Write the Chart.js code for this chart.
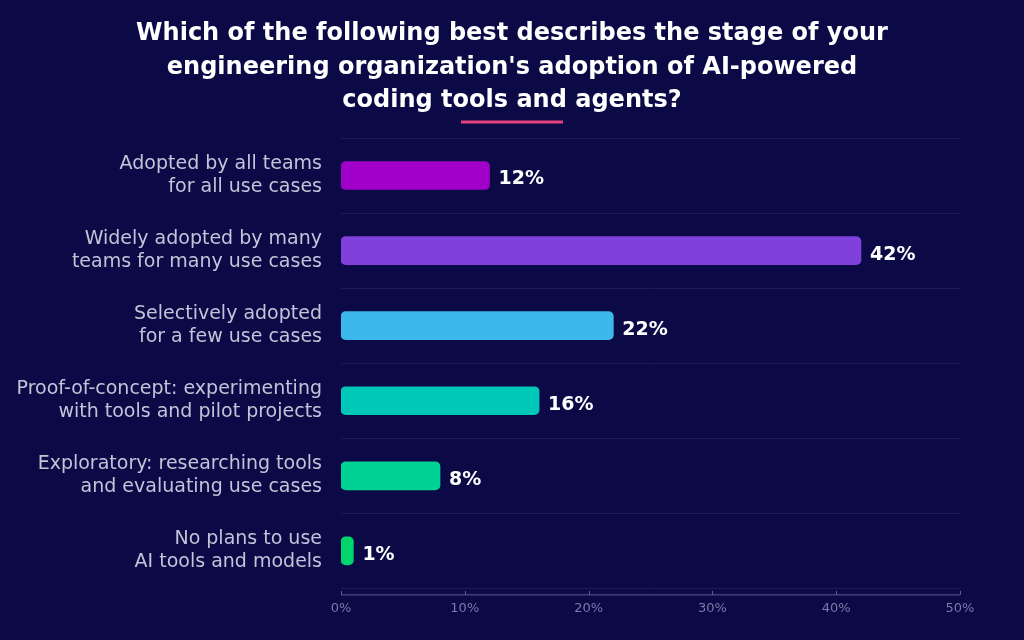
<!DOCTYPE html>
<html lang="en">
<head>
    <meta charset="UTF-8">
    <title>AI Coding Tools Adoption</title>
    <script src="https://cdn.jsdelivr.net/npm/chart.js"></script>
    <style>
        html, body { margin: 0; padding: 0; background: #0b0946; }
        #wrap { width: 1024px; height: 640px; position: relative; }
    </style>
</head>
<body>
    <div id="wrap"><canvas id="chart"></canvas></div>

    <script>
        // Chart data
        const categories = [
            ['Adopted by all teams', 'for all use cases'],
            ['Widely adopted by many', 'teams for many use cases'],
            ['Selectively adopted', 'for a few use cases'],
            ['Proof-of-concept: experimenting', 'with tools and pilot projects'],
            ['Exploratory: researching tools', 'and evaluating use cases'],
            ['No plans to use', 'AI tools and models']
        ];
        const percentages = [12, 42, 22, 16, 8, 1];
        const xTicks = [0, 10, 20, 30, 40, 50];
        const titleLines = [
            'Which of the following best describes the stage of your',
            "engineering organization's adoption of AI-powered",
            'coding tools and agents?'
        ];

        const barColors = ['#a000c8', '#8040dc', '#3cb8ed', '#00c8b8', '#00d296', '#00d46c'];
        const FONT = "'DejaVu Sans', sans-serif";
        const axisColor = '#5c5b92';

        // value labels at the end of each bar
        const valueLabels = {
            id: 'valueLabels',
            afterDatasetsDraw(chart) {
                const ctx = chart.ctx;
                const meta = chart.getDatasetMeta(0);
                ctx.save();
                ctx.font = 'bold 19px ' + FONT;
                ctx.fillStyle = '#ffffff';
                ctx.textAlign = 'left';
                ctx.textBaseline = 'middle';
                meta.data.forEach((bar, i) => {
                    ctx.fillText(percentages[i] + '%', bar.x + 9, bar.y + 4);
                });
                ctx.restore();
            }
        };

        // bottom axis line sits a little below the last grid line, with short ticks pointing up
        const bottomAxis = {
            id: 'bottomAxis',
            afterDraw(chart) {
                const x = chart.scales.x;
                const ctx = chart.ctx;
                const y = chart.chartArea.bottom + 6.5;
                ctx.save();
                ctx.strokeStyle = axisColor;
                ctx.lineWidth = 1;
                ctx.beginPath();
                ctx.moveTo(x.left, y);
                ctx.lineTo(x.right, y);
                xTicks.forEach(v => {
                    const px = Math.round(x.getPixelForValue(v)) + 0.5;
                    ctx.moveTo(px, y);
                    ctx.lineTo(px, y - 4);
                });
                ctx.stroke();
                ctx.restore();
            }
        };

        // title centred on the whole canvas (the built-in one centres on the padded box)
        const pageTitle = {
            id: 'pageTitle',
            afterDraw(chart) {
                const ctx = chart.ctx;
                const cx = chart.width / 2;
                ctx.save();
                ctx.font = 'bold 24px ' + FONT;
                ctx.fillStyle = '#ffffff';
                ctx.textAlign = 'center';
                ctx.textBaseline = 'middle';
                titleLines.forEach((line, i) => {
                    ctx.fillText(line, cx, 34 + i * 33.5);
                });
                // pink underline
                ctx.strokeStyle = '#e2437c';
                ctx.lineWidth = 3;
                ctx.beginPath();
                ctx.moveTo(cx - 51, 122);
                ctx.lineTo(cx + 51, 122);
                ctx.stroke();
                ctx.restore();
            }
        };

        const ctx = document.getElementById('chart').getContext('2d');
        new Chart(ctx, {
            type: 'bar',
            data: {
                labels: categories,
                datasets: [{
                    data: percentages,
                    backgroundColor: barColors,
                    barThickness: 28,
                    borderRadius: 5,
                    borderSkipped: false
                }]
            },
            options: {
                indexAxis: 'y',
                responsive: true,
                maintainAspectRatio: false,
                animation: false,
                layout: { padding: { top: 138, left: 14, right: 64, bottom: 12 } },
                plugins: {
                    legend: { display: false },
                    tooltip: { enabled: false },
                    title: { display: false }
                },
                scales: {
                    x: {
                        min: 0,
                        max: 50,
                        afterBuildTicks(scale) {
                            scale.ticks = xTicks.map(v => ({ value: v }));
                        },
                        ticks: {
                            color: '#7b7aa8',
                            font: { family: FONT, size: 13 },
                            padding: 12,
                            callback: v => v + '%'
                        },
                        grid: { display: false, drawTicks: false },
                        border: { display: false }
                    },
                    y: {
                        afterFit(scale) {
                            scale.width = 327;
                        },
                        ticks: {
                            color: '#c4c3d8',
                            font: { family: FONT, size: 19, lineHeight: 1.2 },
                            padding: 19
                        },
                        grid: {
                            offset: true,
                            drawTicks: false,
                            color: '#1d1b5c'
                        },
                        border: { display: false }
                    }
                }
            },
            plugins: [valueLabels, bottomAxis, pageTitle]
        });
    </script>
</body>
</html>
